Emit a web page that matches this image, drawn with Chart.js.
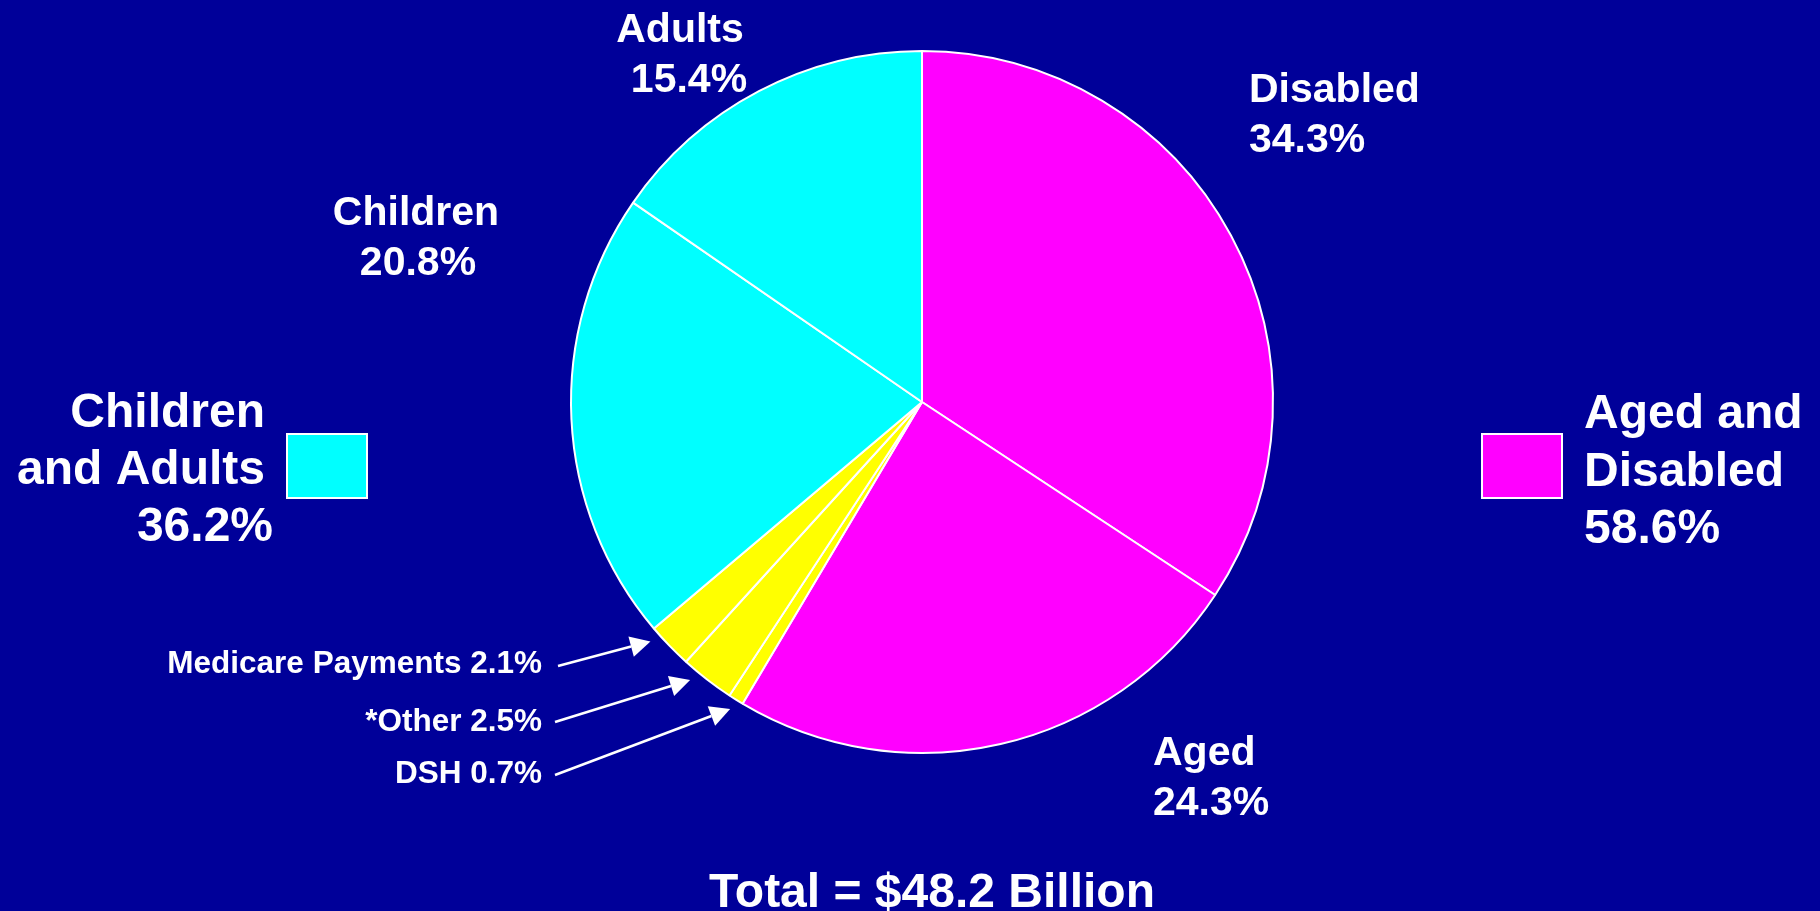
<!DOCTYPE html>
<html>
<head>
<meta charset="utf-8">
<title>Spending by eligibility group</title>
<script src="https://cdn.jsdelivr.net/npm/chart.js@4.4.0/dist/chart.umd.min.js"></script>
<style>
  html,body{margin:0;padding:0;background:#000099;overflow:hidden}
  #wrap{position:relative;width:1820px;height:911px}
</style>
</head>
<body>
<div id="wrap"><canvas id="chart" width="1820" height="911"></canvas></div>
<script>
// slices, clockwise from 12 o'clock
const categories = ['Disabled','Aged','DSH','*Other','Medicare Payments','Children','Adults']
const shares = [34.3, 24.3, 0.7, 2.5, 2.1, 20.8, 15.4]
const sliceColors = ['#ff00ff','#ff00ff','#ffff00','#ffff00','#ffff00','#00ffff','#00ffff']

// grouped legend entries
const groupLines = [['Children','and Adults'],['Aged and','Disabled']]
const groupMembers = [['Children','Adults'],['Disabled','Aged']]
const groupColors = ['#00ffff','#ff00ff']

const totalLabel = 'Total = $48.2 Billion'

const FONT = '"Liberation Sans", Arial, Helvetica, sans-serif'
const WHITE = '#ffffff'

// layout of the annotations (page pixels)
const bigLabels = {
  'Adults':   {x:[680,689], y:42,  align:'center'},
  'Children': {x:[416,418], y:225, align:'center'},
  'Disabled': {x:[1249,1249], y:102, align:'left'},
  'Aged':     {x:[1153,1153], y:765, align:'left'}
}
const callouts = {
  'Medicare Payments': {x:542, y:673, tail:[558,666], frac:0.84},
  '*Other':            {x:542, y:731, tail:[555,722], frac:0.73},
  'DSH':               {x:542, y:783, tail:[555,775], frac:0.5}
}
const legendLayout = [
  {box:[287,434,80,64], lines:[[265,427,'right'],[265,484,'right'],[273,541,'right']]},
  {box:[1482,434,80,64], lines:[[1584,428,'left'],[1584,486,'left'],[1584,543,'left']]}
]

function groupShare(g){
  return groupMembers[g].reduce((s,name)=>s + shares[categories.indexOf(name)], 0)
}

function drawArrow(ctx, x1, y1, x2, y2){
  const a = Math.atan2(y2-y1, x2-x1), len = 20, half = 10.5
  const bx = x2 - len*Math.cos(a), by = y2 - len*Math.sin(a)
  ctx.beginPath(); ctx.moveTo(x1,y1); ctx.lineTo(bx,by); ctx.stroke()
  ctx.beginPath(); ctx.moveTo(x2,y2)
  ctx.lineTo(bx + half*Math.sin(a), by - half*Math.cos(a))
  ctx.lineTo(bx - half*Math.sin(a), by + half*Math.cos(a))
  ctx.closePath(); ctx.fill()
}

const annotations = {
  id:'annotations',
  afterDraw(chart){
    const ctx = chart.ctx
    const arcs = chart.getDatasetMeta(0).data
    ctx.save()
    ctx.fillStyle = WHITE
    ctx.strokeStyle = WHITE
    ctx.textBaseline = 'alphabetic'

    // slice labels
    ctx.font = 'bold 41px ' + FONT
    Object.entries(bigLabels).forEach(([name,p])=>{
      const i = categories.indexOf(name)
      ctx.textAlign = p.align
      ctx.fillText(name, p.x[0], p.y)
      ctx.fillText(shares[i].toFixed(1) + '%', p.x[1], p.y + 50)
    })

    // small slices with arrows
    ctx.font = 'bold 31.5px ' + FONT
    ctx.lineWidth = 2.5
    Object.entries(callouts).forEach(([name,p])=>{
      const i = categories.indexOf(name)
      ctx.textAlign = 'right'
      ctx.fillText(name + ' ' + shares[i].toFixed(1) + '%', p.x, p.y)
      const arc = arcs[i]
      const ang = arc.startAngle + (arc.endAngle - arc.startAngle)*p.frac
      const r = arc.outerRadius + 11
      drawArrow(ctx, p.tail[0], p.tail[1], arc.x + r*Math.cos(ang), arc.y + r*Math.sin(ang))
    })

    // grouped legend
    legendLayout.forEach((L,g)=>{
      const [bx,by,bw,bh] = L.box
      ctx.fillStyle = groupColors[g]
      ctx.fillRect(bx,by,bw,bh)
      ctx.lineWidth = 2
      ctx.strokeStyle = WHITE
      ctx.strokeRect(bx,by,bw,bh)
      ctx.fillStyle = WHITE
      ctx.font = 'bold 48px ' + FONT
      const texts = [...groupLines[g], groupShare(g).toFixed(1) + '%']
      texts.forEach((t,k)=>{
        const [x,y,al] = L.lines[k]
        ctx.textAlign = al
        ctx.fillText(t, x, y)
      })
    })

    // total
    ctx.font = 'bold 48px ' + FONT
    ctx.textAlign = 'center'
    ctx.fillText(totalLabel, 932, 907)
    ctx.restore()
  }
}

new Chart(document.getElementById('chart'), {
  type:'pie',
  data:{
    labels: categories,
    datasets:[{
      data: shares,
      backgroundColor: sliceColors,
      borderColor: WHITE,
      borderWidth: 2,
      radius: 351
    }]
  },
  options:{
    responsive:false,
    animation:false,
    layout:{padding:{left:571, right:547, top:51, bottom:158}},
    plugins:{legend:{display:false}, tooltip:{enabled:false}}
  },
  plugins:[annotations]
})
</script>
</body>
</html>
